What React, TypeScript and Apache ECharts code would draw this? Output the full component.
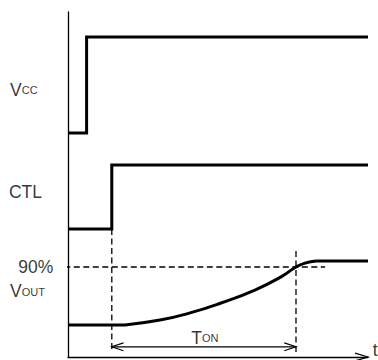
import React, { useEffect, useRef } from 'react';
import * as echarts from 'echarts';

// Signal traces (time units 0..100, level units 0..115)
const vccTime = [0, 6.2, 6.2, 100];
const vccLevel = [74.7, 74.7, 106.7, 106.7];
const ctlTime = [0, 14.6, 14.6, 100];
const ctlLevel = [42.7, 42.7, 64, 64];
const voutLowTime = [0, 19];
const voutLowLevel = [10.7, 10.7];
const voutRiseTime = [19, 30.7, 40.7, 51, 62.3, 71, 76, 79, 82.7];
const voutRiseLevel = [10.7, 12.3, 14.7, 18, 22.3, 26.7, 30, 31.3, 32];
const voutHighTime = [82.7, 100];
const voutHighLevel = [32, 32];

// Guides
const ninetyTime = [-4.4, 85.7];
const ninetyLevel = [30, 30];
const ctlEdgeTime = [14.6, 14.6];
const ctlEdgeLevel = [42.7, 2.3];
const tonEndTime = [76, 76];
const tonEndLevel = [35.3, 0.7];
const tonArrowTime = [14.6, 76];
const tonArrowLevel = [3.4, 3.4];
const tonLeftHeadTime = [18.5, 14.6, 18.5];
const tonLeftHeadLevel = [4.7, 3.4, 2.1];
const tonRightHeadTime = [72.1, 76, 72.1];
const tonRightHeadLevel = [4.7, 3.4, 2.1];
const axisHeadTime = [95.7, 100, 95.7];
const axisHeadLevel = [1.3, 0, -1.3];

// Text labels
const labelTexts = ['{m|V}{s|CC}', '{m|CTL}', '{m|90%}', '{m|V}{s|OUT}', '{m|T}{s|ON}', '{m|t}'];
const labelTime = [-19.3, -19.7, -4.9, -19.3, 41.1, 101.6];
const labelLevel = [89, 54.7, 29.7, 21.7, 6.2, 2.2];
const labelSide = ['right', 'right', 'left', 'right', 'right', 'right'];

const pts = (t: number[], l: number[]) => t.map((x, i) => [x, l[i]]);

const FONT = '"Liberation Sans", Arial, sans-serif';

function lineSeries(t: number[], l: number[], width: number, dashed: boolean, smooth = false, z = 3) {
  return {
    type: 'line',
    data: pts(t, l),
    showSymbol: false,
    symbol: 'none',
    smooth,
    clip: false,
    silent: true,
    z,
    lineStyle: {
      color: '#000',
      width,
      type: dashed ? [6, 3.5] : 'solid',
      cap: 'butt',
      join: 'miter',
    },
  };
}

export default function App() {
  const ref = useRef<HTMLDivElement>(null);
  useEffect(() => {
    const chart = echarts.init(ref.current!, null, { renderer: 'svg' });
    const axisCommon = {
      type: 'value',
      axisLine: { show: true, onZero: false, lineStyle: { color: '#000', width: 1.3 } },
      axisTick: { show: false },
      axisLabel: { show: false },
      splitLine: { show: false },
    };
    chart.setOption({
      animation: false,
      backgroundColor: '#fff',
      grid: { left: 68, right: 10, top: 12, bottom: 3 },
      xAxis: { ...axisCommon, min: 0, max: 100 },
      yAxis: { ...axisCommon, min: 0, max: 115 },
      series: [
        lineSeries(ninetyTime, ninetyLevel, 1.3, true, false, 2),
        lineSeries(ctlEdgeTime, ctlEdgeLevel, 1.3, true, false, 2),
        lineSeries(tonEndTime, tonEndLevel, 1.3, true, false, 2),
        lineSeries(tonArrowTime, tonArrowLevel, 1.2, false, false, 2),
        lineSeries(tonLeftHeadTime, tonLeftHeadLevel, 1.2, false, false, 2),
        lineSeries(tonRightHeadTime, tonRightHeadLevel, 1.2, false, false, 2),
        lineSeries(axisHeadTime, axisHeadLevel, 1.3, false, false, 2),
        lineSeries(vccTime, vccLevel, 3, false),
        lineSeries(ctlTime, ctlLevel, 3, false),
        lineSeries(voutLowTime, voutLowLevel, 3, false),
        lineSeries(voutRiseTime, voutRiseLevel, 3, false, true),
        lineSeries(voutHighTime, voutHighLevel, 3, false),
        {
          type: 'scatter',
          symbolSize: 0,
          clip: false,
          silent: true,
          z: 5,
          itemStyle: { color: 'transparent' },
          data: labelTexts.map((txt, i) => ({
            value: [labelTime[i], labelLevel[i]],
            label: {
              show: true,
              position: labelSide[i],
              distance: 0,
              formatter: txt,
              rich: {
                m: { fontSize: 17.5, fontFamily: FONT, color: '#000', verticalAlign: 'bottom', lineHeight: 17 },
                s: { fontSize: 11, fontFamily: FONT, color: '#000', verticalAlign: 'bottom', lineHeight: 17, padding: [0, 0, 3, 0] },
              },
            },
          })),
        },
      ],
    });
    return () => chart.dispose();
  }, []);
  return <div ref={ref} style={{ position: 'absolute', left: 0, top: 0, width: 378, height: 360 }} />;
}
